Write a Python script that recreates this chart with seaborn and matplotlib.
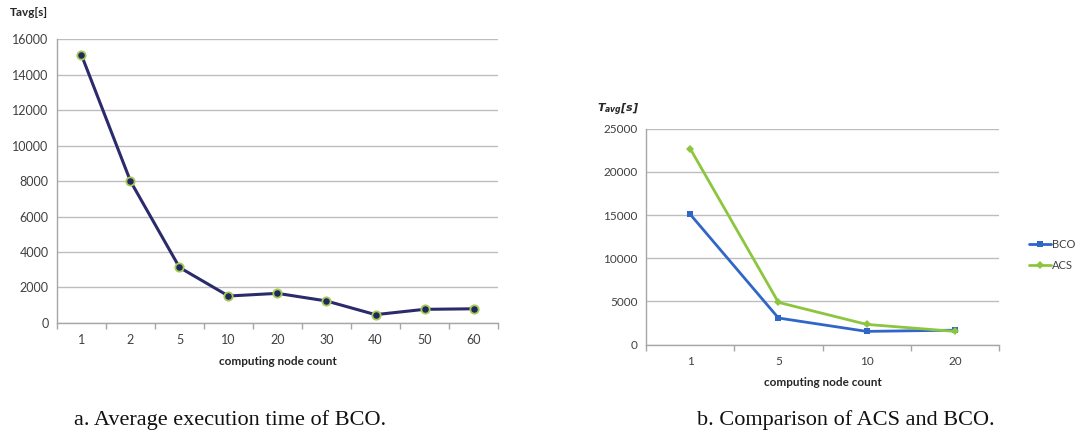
import numpy as np
import pandas as pd
import matplotlib
matplotlib.use('Agg')
import matplotlib.pyplot as plt
import seaborn as sns
from matplotlib.ticker import FixedLocator

# chart a: BCO average execution time
nodes_a = ['1', '2', '5', '10', '20', '30', '40', '50', '60']
tavg_a = [15100, 7990, 3130, 1520, 1670, 1240, 470, 770, 800]

# chart b: BCO vs ACS
nodes_b = ['1', '5', '10', '20']
bco_b = [15100, 3090, 1540, 1680]
acs_b = [22700, 4900, 2350, 1540]

sns.set_theme(style='white')
plt.rcParams['font.family'] = ['Lato', 'DejaVu Sans']
plt.rcParams['mathtext.fontset'] = 'custom'
plt.rcParams['mathtext.it'] = 'DejaVu Sans:bold:oblique'
plt.rcParams['mathtext.rm'] = 'DejaVu Sans:bold:oblique'

grid_c = '#bdbdbd'
axis_c = '#a6a6a6'
text_c = '#404040'

fig = plt.figure(figsize=(10.81, 4.43), dpi=100)
ax1 = fig.add_axes([0.0527, 0.2709, 0.408, 0.641])
ax2 = fig.add_axes([0.5976, 0.2219, 0.3266, 0.4876])

# --- chart a
df_a = pd.DataFrame({'nodes': nodes_a, 'tavg': tavg_a})
sns.lineplot(data=df_a, x='nodes', y='tavg', ax=ax1, sort=False,
             color='#2b2b6b', linewidth=2.2, marker='o', markersize=6,
             markerfacecolor='#1f2a5c', markeredgecolor='#a8c85a',
             markeredgewidth=1.3)
ax1.set_ylim(0, 16000)
ax1.set_yticks(np.arange(0, 16001, 2000))
ax1.set_xlim(-0.5, len(nodes_a) - 0.5)

# --- chart b
df_b = pd.DataFrame({'nodes': nodes_b * 2,
                     'tavg': bco_b + acs_b,
                     'alg': ['BCO'] * len(nodes_b) + ['ACS'] * len(nodes_b)})
sns.lineplot(data=df_b, x='nodes', y='tavg', hue='alg', style='alg', ax=ax2,
             sort=False, palette={'BCO': '#2f66c8', 'ACS': '#8cc63f'},
             markers={'BCO': 's', 'ACS': 'D'}, dashes=False,
             linewidth=2.0, markersize=4.5, markeredgewidth=0)
ax2.set_ylim(0, 25000)
ax2.set_yticks(np.arange(0, 25001, 5000))
ax2.set_xlim(-0.5, len(nodes_b) - 0.5)

leg = ax2.legend(loc='center left', bbox_to_anchor=(1.085, 0.415), frameon=False,
                 fontsize=8, handlelength=2.0, handletextpad=0.1,
                 labelspacing=0.9, borderaxespad=0, borderpad=0)
for t in leg.get_texts():
    t.set_color(text_c)

for ax, n, fs, xfs in [(ax1, len(nodes_a), 9, 8.5), (ax2, len(nodes_b), 8.5, 8.5)]:
    ax.yaxis.grid(True, color=grid_c, linewidth=1)
    ax.xaxis.grid(False)
    ax.set_axisbelow(True)
    for s in ['top', 'right']:
        ax.spines[s].set_visible(False)
    for s in ['left', 'bottom']:
        ax.spines[s].set_color(axis_c)
        ax.spines[s].set_linewidth(1)
    ax.xaxis.set_minor_locator(FixedLocator(np.arange(n + 1) - 0.5))
    ax.tick_params(axis='x', which='major', length=0, pad=8, labelsize=fs, labelcolor=text_c)
    ax.tick_params(axis='x', which='minor', length=4, width=1, color=axis_c, direction='out', bottom=True)
    ax.tick_params(axis='y', length=0, pad=6, labelsize=fs, labelcolor=text_c)
    ax.set_xlabel('computing node count', fontsize=xfs, fontweight='bold', color='#262626', labelpad=7)
    ax.set_ylabel('')

fig.text(0.009, 0.972, 'Tavg[s]', fontsize=8.5, fontweight='bold', color='#262626', va='center')
fig.text(0.552, 0.752, r'$T_{avg}[s]$', fontsize=8, color='#262626', va='center')

fig.text(0.213, 0.052, 'a. Average execution time of BCO.', family='Liberation Serif',
         fontsize=16, ha='center', va='center', color='#111111')
fig.text(0.782, 0.052, 'b. Comparison of ACS and BCO.', family='Liberation Serif',
         fontsize=16, ha='center', va='center', color='#111111')

fig.savefig('out.png', dpi=100)
